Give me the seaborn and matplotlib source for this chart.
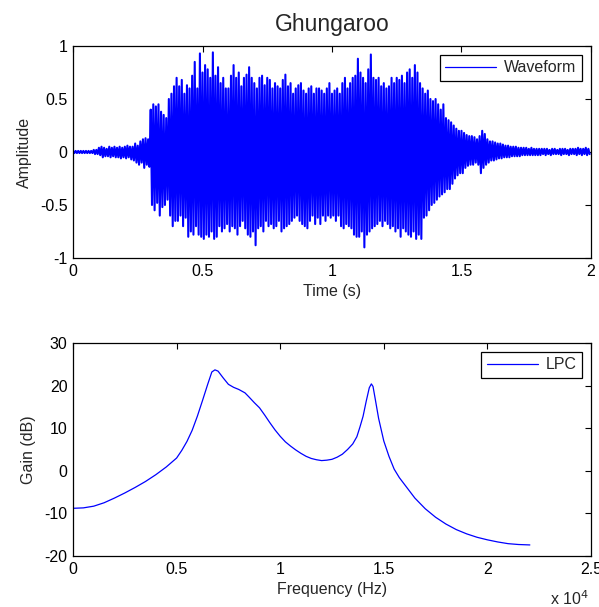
import numpy as np
import pandas as pd
import matplotlib
matplotlib.use("Agg")
import matplotlib.pyplot as plt
import seaborn as sns

# ---------------- data ----------------
title = "Ghungaroo"
wave_step = 0.01  # seconds between envelope readings
wave_upper = [
    0.01, 0.01, 0.01, 0.01, 0.01, 0.01, 0.01, 0.01, 0.02, 0.02,
    0.04, 0.05, 0.04, 0.03, 0.05, 0.04, 0.05, 0.04, 0.05, 0.04,
    0.05, 0.06, 0.05, 0.05, 0.08, 0.06, 0.10, 0.12, 0.13, 0.12,
    0.40, 0.45, 0.43, 0.45, 0.38, 0.35, 0.32, 0.50, 0.55, 0.62,
    0.70, 0.62, 0.68, 0.55, 0.63, 0.60, 0.72, 0.85, 0.60, 0.93,
    0.75, 0.82, 0.78, 0.70, 0.94, 0.72, 0.80, 0.65, 0.70, 0.60,
    0.60, 0.72, 0.82, 0.70, 0.75, 0.62, 0.70, 0.73, 0.80, 0.70,
    0.65, 0.60, 0.70, 0.72, 0.63, 0.70, 0.68, 0.60, 0.65, 0.62,
    0.60, 0.68, 0.73, 0.62, 0.65, 0.55, 0.60, 0.63, 0.65, 0.58,
    0.55, 0.60, 0.62, 0.55, 0.60, 0.60, 0.58, 0.55, 0.60, 0.65,
    0.55, 0.58, 0.60, 0.55, 0.65, 0.70, 0.60, 0.65, 0.70, 0.72,
    0.88, 0.75, 0.70, 0.65, 0.78, 0.92, 0.70, 0.68, 0.70, 0.62,
    0.65, 0.60, 0.62, 0.70, 0.65, 0.70, 0.68, 0.72, 0.65, 0.75,
    0.78, 0.70, 0.82, 0.75, 0.65, 0.60, 0.55, 0.58, 0.50, 0.48,
    0.50, 0.45, 0.40, 0.45, 0.32, 0.30, 0.28, 0.25, 0.22, 0.20,
    0.20, 0.18, 0.16, 0.15, 0.15, 0.14, 0.12, 0.15, 0.20, 0.17,
    0.12, 0.10, 0.10, 0.09, 0.08, 0.08, 0.07, 0.06, 0.06, 0.05,
    0.05, 0.05, 0.04, 0.04, 0.04, 0.04, 0.03, 0.04, 0.03, 0.03,
    0.03, 0.03, 0.03, 0.03, 0.02, 0.03, 0.03, 0.02, 0.03, 0.03,
    0.03, 0.02, 0.03, 0.03, 0.03, 0.04, 0.03, 0.03, 0.04, 0.03,
]
wave_lower = [
    -0.01, -0.01, -0.01, -0.01, -0.01, -0.01, -0.01, -0.01, -0.02, -0.02,
    -0.03, -0.05, -0.04, -0.04, -0.05, -0.04, -0.05, -0.05, -0.06, -0.05,
    -0.06, -0.05, -0.07, -0.08, -0.10, -0.12, -0.10, -0.15, -0.12, -0.14,
    -0.50, -0.55, -0.48, -0.60, -0.52, -0.50, -0.45, -0.60, -0.70, -0.65,
    -0.65, -0.60, -0.70, -0.62, -0.80, -0.75, -0.78, -0.70, -0.78, -0.80,
    -0.82, -0.78, -0.80, -0.75, -0.82, -0.80, -0.70, -0.75, -0.72, -0.68,
    -0.75, -0.70, -0.72, -0.78, -0.70, -0.65, -0.72, -0.78, -0.80, -0.75,
    -0.88, -0.72, -0.70, -0.75, -0.65, -0.70, -0.68, -0.72, -0.70, -0.65,
    -0.75, -0.72, -0.70, -0.68, -0.65, -0.62, -0.60, -0.65, -0.68, -0.70,
    -0.72, -0.65, -0.60, -0.68, -0.62, -0.68, -0.60, -0.65, -0.60, -0.62,
    -0.60, -0.65, -0.60, -0.70, -0.72, -0.68, -0.70, -0.72, -0.78, -0.80,
    -0.80, -0.75, -0.90, -0.78, -0.75, -0.72, -0.70, -0.68, -0.65, -0.70,
    -0.65, -0.68, -0.72, -0.70, -0.75, -0.72, -0.80, -0.72, -0.75, -0.78,
    -0.80, -0.75, -0.82, -0.78, -0.82, -0.62, -0.60, -0.55, -0.50, -0.48,
    -0.45, -0.42, -0.40, -0.38, -0.35, -0.35, -0.30, -0.25, -0.22, -0.20,
    -0.20, -0.15, -0.13, -0.12, -0.12, -0.10, -0.12, -0.20, -0.15, -0.12,
    -0.10, -0.08, -0.08, -0.07, -0.06, -0.06, -0.05, -0.05, -0.05, -0.04,
    -0.04, -0.04, -0.04, -0.03, -0.03, -0.03, -0.03, -0.03, -0.03, -0.03,
    -0.03, -0.02, -0.03, -0.02, -0.03, -0.02, -0.02, -0.02, -0.03, -0.02,
    -0.02, -0.03, -0.02, -0.02, -0.03, -0.02, -0.03, -0.02, -0.03, -0.02,
]

lpc_freq = [0, 500, 1000, 1500, 2000, 2500, 3000, 3500, 4000, 4500, 5000, 5250,
            5500, 5750, 6000, 6250, 6500, 6700, 6850, 7000, 7250, 7500, 7750,
            8000, 8300, 8500, 8750, 9000, 9250, 9500, 9750, 10000, 10250, 10500,
            10750, 11000, 11250, 11500, 11750, 12000, 12250, 12500, 12750, 13000,
            13250, 13500, 13700, 13850, 14000, 14150, 14300, 14400, 14480, 14600,
            14750, 15000, 15250, 15500, 15750, 16000, 16500, 17000, 17500, 18000,
            18500, 19000, 19500, 20000, 20500, 21000, 21500, 22050]
lpc_gain = [-8.8, -8.7, -8.3, -7.5, -6.4, -5.2, -3.9, -2.5, -0.9, 0.9, 3.0, 4.8,
            6.9, 9.5, 12.8, 16.5, 20.3, 23.2, 23.7, 23.4, 21.8, 20.3, 19.6,
            19.1, 18.3, 17.3, 16.0, 14.8, 13.1, 11.3, 9.6, 8.1, 6.8, 5.8,
            4.9, 4.1, 3.4, 2.9, 2.6, 2.4, 2.5, 2.7, 3.2, 3.9,
            5.0, 6.3, 8.0, 10.3, 12.8, 16.3, 19.5, 20.4, 19.8, 16.5,
            12.3, 7.0, 3.4, 0.4, -1.6, -3.2, -6.4, -8.9, -10.9, -12.5,
            -13.8, -14.8, -15.6, -16.2, -16.7, -17.1, -17.3, -17.4]

wave_xticks = [0, 0.5, 1, 1.5, 2]
wave_yticks = [-1, -0.5, 0, 0.5, 1]
lpc_xticks = [0, 5000, 10000, 15000, 20000, 25000]
lpc_yticks = [-20, -10, 0, 10, 20, 30]

# ---------------- build tables ----------------
n = len(wave_upper)
t_up = np.arange(n) * wave_step
t_lo = t_up + wave_step / 2
wave_t = np.empty(2 * n)
wave_a = np.empty(2 * n)
wave_t[0::2] = t_up
wave_t[1::2] = t_lo
wave_a[0::2] = wave_upper
wave_a[1::2] = wave_lower
wave_df = pd.DataFrame({"t": wave_t, "a": wave_a})
lpc_df = pd.DataFrame({"f": lpc_freq, "g": lpc_gain})

# ---------------- style ----------------
sns.set_theme(style="white")
plt.rcParams["font.family"] = ["Liberation Sans", "DejaVu Sans"]
plt.rcParams["font.size"] = 11.5
plt.rcParams["axes.edgecolor"] = "black"
plt.rcParams["axes.linewidth"] = 0.9

fig = plt.figure(figsize=(5.99, 6.07), dpi=100)
ax1 = fig.add_axes([0.1219, 0.575, 0.8647, 0.3492])
ax2 = fig.add_axes([0.1219, 0.084, 0.8647, 0.3509])

blue = (0, 0, 1)

sns.lineplot(data=wave_df, x="t", y="a", ax=ax1, color=blue, linewidth=1.5,
             label="Waveform", sort=False, estimator=None)
sns.lineplot(data=lpc_df, x="f", y="g", ax=ax2, color=blue, linewidth=0.9,
             label="LPC", estimator=None)

for ax in (ax1, ax2):
    ax.tick_params(direction="in", length=4, width=0.8, top=True, right=True,
                   labelsize=11.5, colors="black", pad=4)
    for s in ax.spines.values():
        s.set_color("black")
        s.set_linewidth(0.9)
    leg = ax.legend(loc="upper right", fancybox=False, framealpha=1,
                    edgecolor="black", fontsize=11.5, handlelength=3.2,
                    borderpad=0.35, handletextpad=0.5, borderaxespad=0.55)
    leg.get_frame().set_linewidth(0.9)
    for h in leg.get_lines():
        h.set_linewidth(0.9)

ax1.set_xlim(0, 2)
ax1.set_ylim(-1, 1)
ax1.set_xticks(wave_xticks)
ax1.set_xticklabels([f"{v:g}" for v in wave_xticks])
ax1.set_yticks(wave_yticks)
ax1.set_yticklabels([f"{v:g}" for v in wave_yticks])
ax1.set_xlabel("Time (s)", fontsize=11.5, labelpad=4)
ax1.set_ylabel("Amplitude", fontsize=11.5, labelpad=6)
ax1.set_title(title, fontsize=16.5, pad=11)

ax2.set_xlim(0, 25000)
ax2.set_ylim(-20, 30)
ax2.set_xticks(lpc_xticks)
ax2.set_xticklabels([f"{v / 1e4:g}" for v in lpc_xticks])
ax2.set_yticks(lpc_yticks)
ax2.set_yticklabels([f"{v:g}" for v in lpc_yticks])
ax2.set_xlabel("Frequency (Hz)", fontsize=11.5, labelpad=4)
ax2.set_ylabel("Gain (dB)", fontsize=11.5, labelpad=6)
ax2.text(0.995, -0.155, r"x 10$^{4}$", transform=ax2.transAxes, ha="right",
         va="top", fontsize=11.5)

fig.savefig("out.png", dpi=100)
